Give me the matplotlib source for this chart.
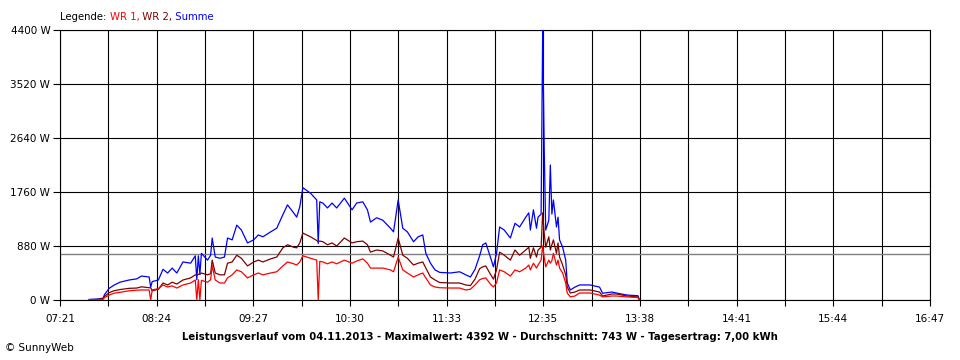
import matplotlib

matplotlib.use("Agg")
import matplotlib.pyplot as plt
import numpy as np

# Leistungsverlauf 04.11.2013, values (W)
times = [
    "07:40", "07:45", "07:49", "07:50", "07:53", "07:56", "08:00", "08:06", "08:11", "08:14",
    "08:19", "08:20", "08:21", "08:25", "08:28", "08:31", "08:34", "08:37", "08:41", "08:46",
    "08:49", "08:50", "08:51", "08:52", "08:53", "08:57", "08:59", "09:00", "09:02", "09:05",
    "09:08", "09:10", "09:13", "09:16", "09:19", "09:23", "09:27", "09:30", "09:33", "09:38",
    "09:42", "09:46", "09:49", "09:53", "09:55", "09:57", "09:59", "10:04", "10:08", "10:09",
    "10:10", "10:12", "10:15", "10:18", "10:21", "10:26", "10:31", "10:34", "10:38", "10:41",
    "10:43", "10:47", "10:51", "10:56", "10:58", "11:01", "11:04", "11:07", "11:11", "11:14",
    "11:17", "11:19", "11:22", "11:25", "11:28", "11:35", "11:41", "11:45", "11:48", "11:51",
    "11:54", "11:56", "11:58", "12:01", "12:03", "12:05", "12:07", "12:10", "12:14", "12:17",
    "12:20", "12:24", "12:26", "12:27", "12:29", "12:31", "12:32", "12:34", "12:35", "12:36",
    "12:37", "12:39", "12:40", "12:41", "12:42", "12:44", "12:45", "12:46", "12:48", "12:50",
    "12:51", "12:53", "12:56", "12:59", "13:06", "13:12", "13:14", "13:20", "13:23", "13:30",
    "13:37", "13:38",
]
summe = [
    10, 15, 30, 90, 190, 240, 290, 326, 345, 390,
    375, 210, 300, 326, 500, 440, 520, 440, 620, 600,
    720, 330, 720, 420, 760, 650, 730, 1010, 700, 680,
    700, 1010, 980, 1220, 1140, 930, 980, 1060, 1030, 1110,
    1170, 1390, 1550, 1420, 1350, 1520, 1830, 1740, 1630, 920,
    1600, 1580, 1500, 1580, 1500, 1660, 1470, 1580, 1600, 1470,
    1270, 1340, 1300, 1170, 1110, 1630, 1170, 1110, 950, 1030,
    1060, 760, 600, 490, 450, 440, 460, 410, 375, 500,
    720, 900, 930, 700, 540, 760, 1190, 1140, 1010, 1250,
    1190, 1350, 1420, 1140, 1470, 1170, 1350, 1400, 4392, 2500,
    1140, 1300, 2200, 1400, 1630, 1190, 1350, 980, 860, 650,
    280, 163, 210, 245, 245, 210, 110, 130, 114, 80,
    70, 0,
]
wr1 = [
    5, 5, 10, 40, 80, 110, 125, 150, 160, 163,
    163, 0, 165, 185, 245, 212, 230, 195, 245, 277,
    326, 0, 330, 0, 320, 290, 330, 560, 326, 277,
    277, 360, 410, 490, 460, 360, 410, 440, 410, 440,
    460, 555, 620, 590, 570, 620, 720, 680, 650, 0,
    630, 620, 590, 620, 590, 650, 600, 635, 670, 600,
    520, 520, 520, 490, 460, 700, 490, 440, 375, 410,
    440, 360, 245, 212, 200, 195, 195, 163, 175, 245,
    330, 350, 360, 260, 212, 280, 490, 460, 390, 490,
    460, 520, 570, 490, 600, 520, 570, 650, 880, 700,
    540, 650, 600, 640, 760, 570, 650, 520, 440, 277,
    114, 50, 65, 114, 114, 80, 50, 65, 65, 50,
    40, 0,
]
wr2 = [
    5, 10, 20, 60, 120, 150, 170, 190, 195, 215,
    200, 200, 150, 175, 277, 245, 290, 260, 326, 360,
    410, 400, 420, 420, 440, 410, 430, 650, 440, 410,
    410, 600, 620, 730, 680, 555, 620, 650, 620, 670,
    700, 850, 900, 860, 850, 930, 1090, 1030, 970, 950,
    960, 950, 900, 930, 880, 1010, 930, 950, 960, 900,
    780, 815, 800, 730, 700, 1010, 730, 680, 570, 600,
    620, 520, 375, 326, 285, 277, 277, 245, 235, 340,
    510, 540, 555, 420, 340, 490, 780, 730, 650, 815,
    730, 815, 860, 680, 850, 700, 815, 860, 1420, 1090,
    860, 1030, 815, 900, 980, 760, 930, 700, 570, 410,
    212, 114, 130, 163, 163, 130, 65, 98, 98, 65,
    50, 0,
]

y_ticks = [0, 880, 1760, 2640, 3520, 4400]
x_labels = ["07:21", "08:24", "09:27", "10:30", "11:33", "12:35", "13:38", "14:41", "15:44", "16:47"]
avg_w = 743
title = ("Leistungsverlauf vom 04.11.2013 - Maximalwert: 4392 W - "
         "Durchschnitt: 743 W - Tagesertrag: 7,00 kWh")


def to_min(s: str) -> int:
    h, m = s.split(":")
    return int(h) * 60 + int(m)


t = np.array([to_min(s) for s in times])
t0, t1 = to_min(x_labels[0]), to_min(x_labels[-1])
grid_x = np.linspace(t0, t1, 2 * (len(x_labels) - 1) + 1)

plt.rcParams["font.family"] = ["DejaVu Sans"]
fig = plt.figure(figsize=(9.6, 3.6), dpi=100)
ax = fig.add_axes([60 / 960, 60 / 360, 870 / 960, 270 / 360])

ax.set_xlim(t0, t1)
ax.set_ylim(0, y_ticks[-1])
ax.set_xticks(grid_x)
ax.set_xticklabels([x_labels[i // 2] if i % 2 == 0 else "" for i in range(len(grid_x))])
ax.set_yticks(y_ticks)
ax.set_yticklabels([f"{v} W" for v in y_ticks])
ax.tick_params(axis="x", length=4, width=0.8, pad=6, labelsize=7.5, direction="out")
ax.tick_params(axis="y", length=5, width=0.8, pad=2, labelsize=7.5, direction="out")
ax.grid(True, color="black", linewidth=0.8, zorder=1)
for sp in ax.spines.values():
    sp.set_linewidth(0.8)
ax.set_axisbelow(True)

ax.axhline(avg_w, color="#808080", linewidth=1.0, zorder=2)
ax.plot(t, summe, color="#0000ff", linewidth=0.9, zorder=3)
ax.plot(t, wr2, color="#800000", linewidth=0.9, zorder=4)
ax.plot(t, wr1, color="#ff0000", linewidth=0.9, zorder=5)

# legend line at the top, coloured pieces chained one after another
leg = fig.text(60 / 960, 1 - 17 / 360, "Legende: ", fontsize=7.3, va="center")
prev = leg
for txt, col in (("WR 1,", "#ff0000"), (" WR 2,", "#800000"), (" Summe", "#0000ff")):
    prev = ax.annotate(txt, xy=(1, 0), xycoords=prev, va="bottom", ha="left",
                       fontsize=7.3, color=col, annotation_clip=False)

fig.text(0.5, 1 - 337 / 360, title, ha="center", va="center", fontsize=7.3, fontweight="bold")
fig.text(5 / 960, 1 - 348 / 360, "\u00a9 SunnyWeb", ha="left", va="center", fontsize=7.5)

fig.savefig("out.png", dpi=100)
